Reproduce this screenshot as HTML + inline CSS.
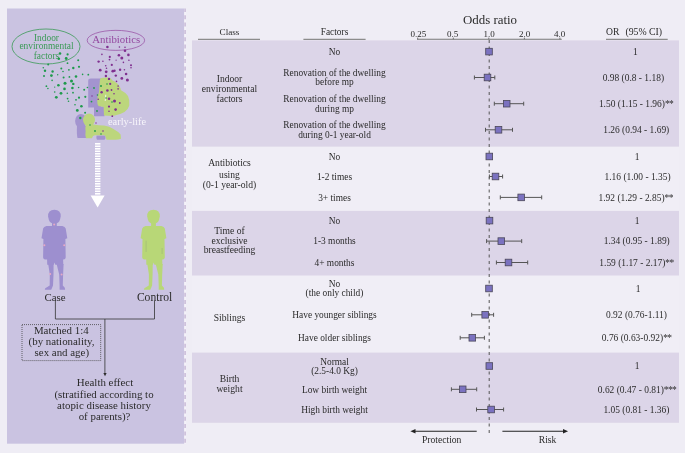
<!DOCTYPE html>
<html><head><meta charset="utf-8"><style>
html,body{margin:0;padding:0;background:#efedf5;}
svg{display:block;will-change:transform;}
text{font-family:"Liberation Serif", serif;}
</style></head><body>
<svg width="685" height="453" viewBox="0 0 685 453">
<rect x="0" y="0" width="685" height="453" fill="#efedf5"/>
<rect x="7" y="8.5" width="177.3" height="435.2" fill="#cac3e1"/>
<rect x="184.3" y="8.5" width="1.8" height="435.2" fill="#f4f2f9"/>
<line x1="185.1" y1="8.5" x2="185.1" y2="443.7" stroke="#cfc2dc" stroke-width="1.8" stroke-dasharray="4 3.3" stroke-dashoffset="0.5"/>
<rect x="192" y="40.4" width="487" height="106.4" fill="#dcd5e8"/>
<rect x="192" y="146.8" width="487" height="64.1" fill="#f0eef6"/>
<rect x="192" y="210.9" width="487" height="64.8" fill="#dcd5e8"/>
<rect x="192" y="275.7" width="487" height="76.9" fill="#f0eef6"/>
<rect x="192" y="352.6" width="487" height="70.2" fill="#dcd5e8"/>
<line x1="198" y1="39.3" x2="260" y2="39.3" stroke="#8c8c8c" stroke-width="1.2"/>
<line x1="303.4" y1="39.3" x2="365.6" y2="39.3" stroke="#8c8c8c" stroke-width="1.2"/>
<line x1="606" y1="39.3" x2="667.7" y2="39.3" stroke="#8c8c8c" stroke-width="1.2"/>
<line x1="417" y1="39.2" x2="561.7" y2="39.2" stroke="#777" stroke-width="1.1"/>
<line x1="417.7" y1="37.6" x2="417.7" y2="39.3" stroke="#666" stroke-width="0.9"/>
<line x1="453.3" y1="37.6" x2="453.3" y2="39.3" stroke="#666" stroke-width="0.9"/>
<line x1="488.8" y1="37.6" x2="488.8" y2="39.3" stroke="#666" stroke-width="0.9"/>
<line x1="524.4" y1="37.6" x2="524.4" y2="39.3" stroke="#666" stroke-width="0.9"/>
<line x1="559.9" y1="37.6" x2="559.9" y2="39.3" stroke="#666" stroke-width="0.9"/>
<line x1="489.2" y1="40" x2="489.2" y2="433" stroke="#555" stroke-width="1" stroke-dasharray="3 3.5"/>
<line x1="414" y1="431.3" x2="476.7" y2="431.3" stroke="#222" stroke-width="1.1"/>
<path d="M410.4 431.3 L415.5 429 L415.5 433.6 Z" fill="#222"/>
<line x1="502.4" y1="431.3" x2="565" y2="431.3" stroke="#222" stroke-width="1.1"/>
<path d="M568.1 431.3 L563 429 L563 433.6 Z" fill="#222"/>
<ellipse cx="46" cy="46.5" rx="34" ry="17.5" fill="none" stroke="#3a9a55" stroke-width="0.8"/>
<ellipse cx="115.9" cy="40.35" rx="28.7" ry="10" fill="none" stroke="#93489f" stroke-width="0.7"/>
<text x="46.5" y="40.5" font-size="9.4" text-anchor="middle" fill="#3a9a55">Indoor</text>
<text x="46.5" y="49.4" font-size="9.4" text-anchor="middle" fill="#3a9a55">environmental</text>
<text x="46.5" y="58.6" font-size="9.4" text-anchor="middle" fill="#3a9a55">factors</text>
<text x="116.2" y="43.2" font-size="10.8" text-anchor="middle" fill="#93489f">Antibiotics</text>
<path d="M88.2 81 Q88.2 78.6 91 78.6 L101 78.6 L101 106.5 L104.5 106.5 L104.5 116.3 L94 116.3 L94 107.5 L88.2 107.5 Z" fill="#a394cf"/>
<path d="M99.9 80 Q100 77.8 103 77.8 L108 77.6 Q111.5 78 112.5 80.5 Q117.5 82.5 119.3 86 Q121 88.5 121 90.3 Q125.5 92.5 128 96 Q130 100 129.3 105.5 Q128 110 124.5 112 Q120 114.8 113 116 L104 115.6 L103.6 107 L98.5 106 Q97 104 97.2 100 Q97.8 95 99 92 Z" fill="#bcd67c"/>
<path d="M105.2 94.8 L106.3 94.8 L105.7 101.1 L104.7 101.1 Z" fill="#eef0e0"/>
<ellipse cx="81" cy="121" rx="5.9" ry="7" fill="#a394cf"/>
<path d="M77 126 L86.5 126 L86.5 138 L77.5 138 Q76.5 134 77 126 Z" fill="#a394cf"/>
<path d="M96.5 135.5 L105.3 135.5 Q106 139.7 104 139.7 L97 139.7 Q96 138 96.5 135.5 Z" fill="#a394cf"/>
<ellipse cx="89" cy="120" rx="6" ry="6.5" fill="#bcd67c"/>
<path d="M86 124 L94 124.5 Q99 125.6 104 125.5 Q110 126.5 113 128.8 Q118 131.5 120.6 134.5 L121 138.8 Q118 140 114 139.8 L106.5 139.7 Q105.8 136 104.5 135.3 L95 135.3 Q92.5 135.5 92 138.3 L86 138.3 Q85 135 85.6 131 Q85 128 86 124 Z" fill="#bcd67c"/>
<text x="108" y="125.2" font-size="10.4" fill="#f7f5fb">early-life</text>
<circle cx="60" cy="53.5" r="1.3" fill="#1f9a4c"/>
<circle cx="67.6" cy="54.4" r="1.1" fill="#1f9a4c"/>
<circle cx="58.8" cy="58.8" r="1.3" fill="#1f9a4c"/>
<circle cx="66.2" cy="58.5" r="1.4" fill="#1f9a4c"/>
<circle cx="48.2" cy="64.5" r="1" fill="#1f9a4c"/>
<circle cx="43.3" cy="67.7" r="0.8" fill="#1f9a4c"/>
<circle cx="45" cy="70.8" r="1.2" fill="#1f9a4c"/>
<circle cx="52.6" cy="71.5" r="1.2" fill="#1f9a4c"/>
<circle cx="61.3" cy="68.5" r="1" fill="#1f9a4c"/>
<circle cx="67.5" cy="63.2" r="0.9" fill="#1f9a4c"/>
<circle cx="78.2" cy="60.2" r="1" fill="#1f9a4c"/>
<circle cx="79" cy="66.8" r="1.1" fill="#1f9a4c"/>
<circle cx="73.3" cy="68" r="1.2" fill="#1f9a4c"/>
<circle cx="68.9" cy="69.8" r="0.9" fill="#1f9a4c"/>
<circle cx="63" cy="71.5" r="0.8" fill="#1f9a4c"/>
<circle cx="51.4" cy="75.6" r="1.4" fill="#1f9a4c"/>
<circle cx="44" cy="76.1" r="1" fill="#1f9a4c"/>
<circle cx="57.7" cy="74.7" r="0.7" fill="#1f9a4c"/>
<circle cx="63.6" cy="77.4" r="1" fill="#1f9a4c"/>
<circle cx="69.4" cy="76.9" r="0.9" fill="#1f9a4c"/>
<circle cx="76" cy="76.5" r="1.3" fill="#1f9a4c"/>
<circle cx="82.6" cy="74.4" r="0.8" fill="#1f9a4c"/>
<circle cx="88.3" cy="74.7" r="0.9" fill="#1f9a4c"/>
<circle cx="52.1" cy="80.4" r="0.8" fill="#1f9a4c"/>
<circle cx="65" cy="83.2" r="1.5" fill="#1f9a4c"/>
<circle cx="71.5" cy="80.9" r="1.5" fill="#1f9a4c"/>
<circle cx="73.3" cy="83.9" r="1.2" fill="#1f9a4c"/>
<circle cx="58.4" cy="85.3" r="1.3" fill="#1f9a4c"/>
<circle cx="46.4" cy="86.2" r="0.9" fill="#1f9a4c"/>
<circle cx="47.9" cy="88.5" r="0.8" fill="#1f9a4c"/>
<circle cx="54.7" cy="87.1" r="0.7" fill="#1f9a4c"/>
<circle cx="64.5" cy="88.9" r="1.3" fill="#1f9a4c"/>
<circle cx="72.4" cy="88" r="1.3" fill="#1f9a4c"/>
<circle cx="78.6" cy="87.5" r="0.8" fill="#1f9a4c"/>
<circle cx="84.2" cy="89.7" r="1" fill="#1f9a4c"/>
<circle cx="87.4" cy="87.5" r="0.8" fill="#1f9a4c"/>
<circle cx="54.7" cy="92" r="0.8" fill="#1f9a4c"/>
<circle cx="61" cy="93.3" r="1.4" fill="#1f9a4c"/>
<circle cx="67.3" cy="93.3" r="0.8" fill="#1f9a4c"/>
<circle cx="73" cy="92.7" r="0.9" fill="#1f9a4c"/>
<circle cx="79" cy="97.7" r="1.1" fill="#1f9a4c"/>
<circle cx="85.3" cy="96.8" r="1.1" fill="#1f9a4c"/>
<circle cx="56.3" cy="97.3" r="1.4" fill="#1f9a4c"/>
<circle cx="67.6" cy="98.6" r="0.9" fill="#1f9a4c"/>
<circle cx="76" cy="99.8" r="0.9" fill="#1f9a4c"/>
<circle cx="68.5" cy="101.2" r="0.8" fill="#1f9a4c"/>
<circle cx="81.4" cy="106.2" r="1.3" fill="#1f9a4c"/>
<circle cx="75" cy="104.8" r="0.8" fill="#1f9a4c"/>
<circle cx="77.3" cy="110.4" r="1.4" fill="#1f9a4c"/>
<circle cx="85.1" cy="112.7" r="1" fill="#1f9a4c"/>
<circle cx="80.3" cy="118" r="1.2" fill="#1f9a4c"/>
<circle cx="91.5" cy="101.6" r="0.9" fill="#1f9a4c"/>
<circle cx="94" cy="88" r="0.9" fill="#1f9a4c"/>
<circle cx="101" cy="86" r="1" fill="#1f9a4c"/>
<circle cx="97.5" cy="95" r="0.8" fill="#1f9a4c"/>
<circle cx="107" cy="84" r="0.8" fill="#1f9a4c"/>
<circle cx="106" cy="98" r="0.8" fill="#1f9a4c"/>
<circle cx="112" cy="102" r="0.8" fill="#1f9a4c"/>
<circle cx="97" cy="111" r="0.9" fill="#1f9a4c"/>
<circle cx="90" cy="125" r="0.8" fill="#1f9a4c"/>
<circle cx="95" cy="131" r="0.9" fill="#1f9a4c"/>
<circle cx="101" cy="134" r="0.8" fill="#1f9a4c"/>
<circle cx="107.4" cy="47" r="1.3" fill="#7f2f8f"/>
<circle cx="119.4" cy="47" r="0.8" fill="#7f2f8f"/>
<circle cx="125" cy="47.3" r="0.8" fill="#7f2f8f"/>
<circle cx="125" cy="50.8" r="1.3" fill="#7f2f8f"/>
<circle cx="101.9" cy="54.4" r="0.8" fill="#7f2f8f"/>
<circle cx="109.8" cy="56.9" r="1.1" fill="#7f2f8f"/>
<circle cx="118.9" cy="55.3" r="1.3" fill="#7f2f8f"/>
<circle cx="121.8" cy="57.9" r="1.5" fill="#7f2f8f"/>
<circle cx="128.4" cy="54.9" r="1.3" fill="#7f2f8f"/>
<circle cx="98.6" cy="61.6" r="1.2" fill="#7f2f8f"/>
<circle cx="102.9" cy="61.2" r="0.8" fill="#7f2f8f"/>
<circle cx="109.5" cy="59.6" r="0.9" fill="#7f2f8f"/>
<circle cx="116.1" cy="60.2" r="0.6" fill="#7f2f8f"/>
<circle cx="123.4" cy="62.4" r="0.8" fill="#7f2f8f"/>
<circle cx="128.9" cy="60.2" r="0.8" fill="#7f2f8f"/>
<circle cx="105.7" cy="65.7" r="0.8" fill="#7f2f8f"/>
<circle cx="111.8" cy="64.9" r="1.1" fill="#7f2f8f"/>
<circle cx="131" cy="65.2" r="1" fill="#7f2f8f"/>
<circle cx="100.2" cy="70.2" r="1.4" fill="#7f2f8f"/>
<circle cx="106.2" cy="71.8" r="1.4" fill="#7f2f8f"/>
<circle cx="112.8" cy="71.2" r="1.4" fill="#7f2f8f"/>
<circle cx="114.5" cy="70.7" r="1.2" fill="#7f2f8f"/>
<circle cx="120.1" cy="69.8" r="1.2" fill="#7f2f8f"/>
<circle cx="124.4" cy="69.8" r="0.8" fill="#7f2f8f"/>
<circle cx="131" cy="67.8" r="0.8" fill="#7f2f8f"/>
<circle cx="106.5" cy="68.2" r="0.8" fill="#7f2f8f"/>
<circle cx="105.9" cy="76" r="1.2" fill="#7f2f8f"/>
<circle cx="115.8" cy="75.6" r="1.2" fill="#7f2f8f"/>
<circle cx="126.1" cy="74" r="1.3" fill="#7f2f8f"/>
<circle cx="109" cy="78.9" r="1.2" fill="#7f2f8f"/>
<circle cx="121.8" cy="78.4" r="1.4" fill="#7f2f8f"/>
<circle cx="127.4" cy="80.1" r="1.5" fill="#7f2f8f"/>
<circle cx="116.5" cy="81.4" r="0.8" fill="#7f2f8f"/>
<circle cx="110.2" cy="83.9" r="1.1" fill="#7f2f8f"/>
<circle cx="118.1" cy="86.1" r="0.8" fill="#7f2f8f"/>
<circle cx="118.1" cy="88.9" r="0.8" fill="#7f2f8f"/>
<circle cx="107.4" cy="90.5" r="1.3" fill="#7f2f8f"/>
<circle cx="111.5" cy="90" r="0.9" fill="#7f2f8f"/>
<circle cx="101.6" cy="92.2" r="1.2" fill="#7f2f8f"/>
<circle cx="114" cy="93.8" r="0.8" fill="#7f2f8f"/>
<circle cx="109" cy="98.8" r="1.3" fill="#7f2f8f"/>
<circle cx="114.5" cy="101" r="1.5" fill="#7f2f8f"/>
<circle cx="98.2" cy="99.3" r="0.8" fill="#7f2f8f"/>
<circle cx="119.8" cy="103" r="0.9" fill="#7f2f8f"/>
<circle cx="109" cy="106.6" r="1.1" fill="#7f2f8f"/>
<circle cx="115.6" cy="109.6" r="1.3" fill="#7f2f8f"/>
<circle cx="109" cy="111.2" r="0.8" fill="#7f2f8f"/>
<circle cx="112.3" cy="116.2" r="0.9" fill="#7f2f8f"/>
<circle cx="92" cy="96" r="0.7" fill="#7f2f8f"/>
<circle cx="96" cy="123" r="0.7" fill="#7f2f8f"/>
<circle cx="103" cy="131" r="0.8" fill="#7f2f8f"/>
<rect x="95" y="143.0" width="5.4" height="1.6" fill="#ffffff"/>
<rect x="95" y="145.5" width="5.4" height="1.6" fill="#ffffff"/>
<rect x="95" y="148.0" width="5.4" height="1.6" fill="#ffffff"/>
<rect x="95" y="150.5" width="5.4" height="1.6" fill="#ffffff"/>
<rect x="95" y="153.0" width="5.4" height="1.6" fill="#ffffff"/>
<rect x="95" y="155.5" width="5.4" height="1.6" fill="#ffffff"/>
<rect x="95" y="158.0" width="5.4" height="1.6" fill="#ffffff"/>
<rect x="95" y="160.5" width="5.4" height="1.6" fill="#ffffff"/>
<rect x="95" y="163.0" width="5.4" height="1.6" fill="#ffffff"/>
<rect x="95" y="165.5" width="5.4" height="1.6" fill="#ffffff"/>
<rect x="95" y="168.0" width="5.4" height="1.6" fill="#ffffff"/>
<rect x="95" y="170.5" width="5.4" height="1.6" fill="#ffffff"/>
<rect x="95" y="173.0" width="5.4" height="1.6" fill="#ffffff"/>
<rect x="95" y="175.5" width="5.4" height="1.6" fill="#ffffff"/>
<rect x="95" y="178.0" width="5.4" height="1.6" fill="#ffffff"/>
<rect x="95" y="180.5" width="5.4" height="1.6" fill="#ffffff"/>
<rect x="95" y="183.0" width="5.4" height="1.6" fill="#ffffff"/>
<rect x="95" y="185.5" width="5.4" height="1.6" fill="#ffffff"/>
<rect x="95" y="188.0" width="5.4" height="1.6" fill="#ffffff"/>
<rect x="95" y="190.5" width="5.4" height="1.6" fill="#ffffff"/>
<rect x="95" y="193.0" width="5.4" height="1.6" fill="#ffffff"/>
<path d="M90.6 195.4 L104.6 195.4 L97.6 207.4 Z" fill="#ffffff"/>
<g transform="translate(54.4,0)" fill="#9d8fcf">
<path d="M-6.3 216.5 Q-6.6 209.7 0 209.7 Q6.6 209.7 6.3 216.5 L5.6 219.5 Q4.6 223.2 1.5 223.4 L-1.5 223.4 Q-4.6 223.2 -5.6 219.5 Z"/>
<rect x="-2.4" y="222" width="4.8" height="5"/>
<path d="M-8 226 L8 226 Q10.6 226.8 11.3 228.6 L12.9 238.3 L11 238.9 L11.3 257.5 Q11 259.5 9.3 259.5 L8.7 259.5 L8.9 264.8 L0.9 264.8 L0.2 262.5 L-0.6 264.8 L-7.2 264.8 L-7.3 259.5 L-9.3 259.5 Q-11 259.5 -11.3 257.5 L-11 238.9 L-12.9 238.3 L-11.3 228.6 Q-10.6 226.8 -8 226 Z"/>
<path d="M-6.2 264 L-0.8 264 L-0.9 274.5 L-1.4 285.5 L-2.6 288.5 L-3.2 289.7 L-9.6 289.7 Q-9.8 288.3 -7.5 287.3 L-4.7 285.5 L-4.6 274.5 Z"/>
<path d="M2.2 264 L9.2 264 L8.7 274.5 L8.4 285.5 L10.4 287.8 L10.7 289.7 L5.2 289.7 L5.2 285.5 L4.8 274.5 Z"/>
</g>
<circle cx="54.199999999999996" cy="224.6" r="1.0" fill="#e8a9c4"/>
<circle cx="44.4" cy="245.3" r="1.0" fill="#e8a9c4"/>
<circle cx="64.2" cy="245.3" r="1.0" fill="#e8a9c4"/>
<circle cx="50.199999999999996" cy="274" r="1.0" fill="#e8a9c4"/>
<circle cx="61.6" cy="274.6" r="1.0" fill="#e8a9c4"/>
<g transform="translate(153.5,0)" fill="#b8d777">
<path d="M-6.3 216.5 Q-6.6 209.7 0 209.7 Q6.6 209.7 6.3 216.5 L5.6 219.5 Q4.6 223.2 1.5 223.4 L-1.5 223.4 Q-4.6 223.2 -5.6 219.5 Z"/>
<rect x="-2.4" y="222" width="4.8" height="5"/>
<path d="M-8 226 L8 226 Q10.6 226.8 11.3 228.6 L12.9 238.3 L11 238.9 L11.3 257.5 Q11 259.5 9.3 259.5 L8.7 259.5 L8.9 264.8 L0.9 264.8 L0.2 262.5 L-0.6 264.8 L-7.2 264.8 L-7.3 259.5 L-9.3 259.5 Q-11 259.5 -11.3 257.5 L-11 238.9 L-12.9 238.3 L-11.3 228.6 Q-10.6 226.8 -8 226 Z"/>
<path d="M-6.2 264 L-0.8 264 L-0.9 274.5 L-1.4 285.5 L-2.6 288.5 L-3.2 289.7 L-9.6 289.7 Q-9.8 288.3 -7.5 287.3 L-4.7 285.5 L-4.6 274.5 Z"/>
<path d="M2.2 264 L9.2 264 L8.7 274.5 L8.4 285.5 L10.4 287.8 L10.7 289.7 L5.2 289.7 L5.2 285.5 L4.8 274.5 Z"/>
</g>
<line x1="146.1" y1="240.7" x2="146.1" y2="252" stroke="#a3bc78" stroke-width="0.8"/>
<line x1="162.1" y1="248" x2="162.1" y2="254" stroke="#a3bc78" stroke-width="0.8"/>
<text x="55.1" y="300.8" font-size="10.9" text-anchor="middle" fill="#2b2b2b">Case</text>
<text x="154.6" y="300.8" font-size="11.6" text-anchor="middle" fill="#2b2b2b">Control</text>
<path d="M55.4 301 L55.4 319 L154.5 319 L154.5 301" fill="none" stroke="#333" stroke-width="0.8"/>
<line x1="104.9" y1="319" x2="104.9" y2="374" stroke="#333" stroke-width="0.8"/>
<path d="M103.4 373 L106.6 373 L105 376.2 Z" fill="#2a2a2a"/>
<rect x="22" y="324.6" width="78.7" height="36" fill="none" stroke="#444" stroke-width="0.8" stroke-dasharray="1 1"/>
<text x="61.3" y="334.3" font-size="10.9" text-anchor="middle" fill="#2b2b2b">Matched 1:4</text>
<text x="61.5" y="344.8" font-size="10.9" text-anchor="middle" fill="#2b2b2b">(by nationality,</text>
<text x="61.8" y="356" font-size="10.9" text-anchor="middle" fill="#2b2b2b">sex and age)</text>
<text x="105" y="385.8" font-size="10.9" text-anchor="middle" fill="#2b2b2b">Health effect</text>
<text x="104" y="397.5" font-size="10.9" text-anchor="middle" fill="#2b2b2b">(stratified according to</text>
<text x="104" y="408.7" font-size="10.9" text-anchor="middle" fill="#2b2b2b">atopic disease history</text>
<text x="104.5" y="419.9" font-size="10.9" text-anchor="middle" fill="#2b2b2b">of parents)?</text>
<rect x="485.7" y="48.300000000000004" width="6.6" height="6.6" fill="#7b72c0" stroke="#4a4658" stroke-width="0.8"/>
<line x1="474.4" y1="77.5" x2="494.8" y2="77.5" stroke="#555" stroke-width="1"/>
<line x1="474.4" y1="75.5" x2="474.4" y2="79.5" stroke="#555" stroke-width="1"/>
<line x1="494.8" y1="75.5" x2="494.8" y2="79.5" stroke="#555" stroke-width="1"/>
<rect x="484.2" y="74.2" width="6.6" height="6.6" fill="#7b72c0" stroke="#4a4658" stroke-width="0.8"/>
<line x1="494.3" y1="103.7" x2="523.7" y2="103.7" stroke="#555" stroke-width="1"/>
<line x1="494.3" y1="101.7" x2="494.3" y2="105.7" stroke="#555" stroke-width="1"/>
<line x1="523.7" y1="101.7" x2="523.7" y2="105.7" stroke="#555" stroke-width="1"/>
<rect x="503.4" y="100.4" width="6.6" height="6.6" fill="#7b72c0" stroke="#4a4658" stroke-width="0.8"/>
<line x1="485.5" y1="129.8" x2="512.5" y2="129.8" stroke="#555" stroke-width="1"/>
<line x1="485.5" y1="127.80000000000001" x2="485.5" y2="131.8" stroke="#555" stroke-width="1"/>
<line x1="512.5" y1="127.80000000000001" x2="512.5" y2="131.8" stroke="#555" stroke-width="1"/>
<rect x="495.2" y="126.50000000000001" width="6.6" height="6.6" fill="#7b72c0" stroke="#4a4658" stroke-width="0.8"/>
<rect x="486.0" y="153.2" width="6.6" height="6.6" fill="#7b72c0" stroke="#4a4658" stroke-width="0.8"/>
<line x1="489.4" y1="176.5" x2="502.6" y2="176.5" stroke="#555" stroke-width="1"/>
<line x1="489.4" y1="174.5" x2="489.4" y2="178.5" stroke="#555" stroke-width="1"/>
<line x1="502.6" y1="174.5" x2="502.6" y2="178.5" stroke="#555" stroke-width="1"/>
<rect x="492.2" y="173.2" width="6.6" height="6.6" fill="#7b72c0" stroke="#4a4658" stroke-width="0.8"/>
<line x1="500.3" y1="197.4" x2="541.7" y2="197.4" stroke="#555" stroke-width="1"/>
<line x1="500.3" y1="195.4" x2="500.3" y2="199.4" stroke="#555" stroke-width="1"/>
<line x1="541.7" y1="195.4" x2="541.7" y2="199.4" stroke="#555" stroke-width="1"/>
<rect x="517.9000000000001" y="194.1" width="6.6" height="6.6" fill="#7b72c0" stroke="#4a4658" stroke-width="0.8"/>
<rect x="486.2" y="217.29999999999998" width="6.6" height="6.6" fill="#7b72c0" stroke="#4a4658" stroke-width="0.8"/>
<line x1="486.6" y1="241.1" x2="521.7" y2="241.1" stroke="#555" stroke-width="1"/>
<line x1="486.6" y1="239.1" x2="486.6" y2="243.1" stroke="#555" stroke-width="1"/>
<line x1="521.7" y1="239.1" x2="521.7" y2="243.1" stroke="#555" stroke-width="1"/>
<rect x="498.0" y="237.79999999999998" width="6.6" height="6.6" fill="#7b72c0" stroke="#4a4658" stroke-width="0.8"/>
<line x1="496.4" y1="262.5" x2="527.7" y2="262.5" stroke="#555" stroke-width="1"/>
<line x1="496.4" y1="260.5" x2="496.4" y2="264.5" stroke="#555" stroke-width="1"/>
<line x1="527.7" y1="260.5" x2="527.7" y2="264.5" stroke="#555" stroke-width="1"/>
<rect x="505.2" y="259.2" width="6.6" height="6.6" fill="#7b72c0" stroke="#4a4658" stroke-width="0.8"/>
<rect x="485.7" y="285.2" width="6.6" height="6.6" fill="#7b72c0" stroke="#4a4658" stroke-width="0.8"/>
<line x1="471.7" y1="314.8" x2="493.6" y2="314.8" stroke="#555" stroke-width="1"/>
<line x1="471.7" y1="312.8" x2="471.7" y2="316.8" stroke="#555" stroke-width="1"/>
<line x1="493.6" y1="312.8" x2="493.6" y2="316.8" stroke="#555" stroke-width="1"/>
<rect x="481.9" y="311.5" width="6.6" height="6.6" fill="#7b72c0" stroke="#4a4658" stroke-width="0.8"/>
<line x1="460.2" y1="337.8" x2="484.4" y2="337.8" stroke="#555" stroke-width="1"/>
<line x1="460.2" y1="335.8" x2="460.2" y2="339.8" stroke="#555" stroke-width="1"/>
<line x1="484.4" y1="335.8" x2="484.4" y2="339.8" stroke="#555" stroke-width="1"/>
<rect x="469.0" y="334.5" width="6.6" height="6.6" fill="#7b72c0" stroke="#4a4658" stroke-width="0.8"/>
<rect x="486.0" y="362.7" width="6.6" height="6.6" fill="#7b72c0" stroke="#4a4658" stroke-width="0.8"/>
<line x1="451.4" y1="389.3" x2="476.7" y2="389.3" stroke="#555" stroke-width="1"/>
<line x1="451.4" y1="387.3" x2="451.4" y2="391.3" stroke="#555" stroke-width="1"/>
<line x1="476.7" y1="387.3" x2="476.7" y2="391.3" stroke="#555" stroke-width="1"/>
<rect x="459.4" y="386.0" width="6.6" height="6.6" fill="#7b72c0" stroke="#4a4658" stroke-width="0.8"/>
<line x1="476.5" y1="409.5" x2="503.6" y2="409.5" stroke="#555" stroke-width="1"/>
<line x1="476.5" y1="407.5" x2="476.5" y2="411.5" stroke="#555" stroke-width="1"/>
<line x1="503.6" y1="407.5" x2="503.6" y2="411.5" stroke="#555" stroke-width="1"/>
<rect x="487.8" y="406.2" width="6.6" height="6.6" fill="#7b72c0" stroke="#4a4658" stroke-width="0.8"/>
<text x="418.4" y="36.5" font-size="9" text-anchor="middle" fill="#2b2b2b" >0.25</text>
<text x="452.6" y="36.5" font-size="9" text-anchor="middle" fill="#2b2b2b" >0.5</text>
<text x="489.1" y="36.5" font-size="9" text-anchor="middle" fill="#2b2b2b" >1.0</text>
<text x="524.6" y="36.5" font-size="9" text-anchor="middle" fill="#2b2b2b" >2.0</text>
<text x="559.5" y="36.5" font-size="9" text-anchor="middle" fill="#2b2b2b" >4.0</text>
<text x="490" y="24" font-size="12.9" text-anchor="middle" fill="#2b2b2b" >Odds ratio</text>
<text x="229.5" y="34.9" font-size="9.2" text-anchor="middle" fill="#2b2b2b" >Class</text>
<text x="334.5" y="34.9" font-size="9.4" text-anchor="middle" fill="#2b2b2b" >Factors</text>
<text x="606" y="34.8" font-size="9.6" text-anchor="start" fill="#2b2b2b" >OR</text>
<text x="625.4" y="34.8" font-size="9.8" text-anchor="start" fill="#2b2b2b" >(95% CI)</text>
<text x="334.5" y="54.9" font-size="9.4" text-anchor="middle" fill="#2b2b2b" >No</text>
<text x="635.4" y="54.9" font-size="9.45" text-anchor="middle" fill="#2b2b2b" >1</text>
<text x="334.5" y="76.0" font-size="9.4" text-anchor="middle" fill="#2b2b2b" >Renovation of the dwelling</text>
<text x="334.5" y="85.4" font-size="9.4" text-anchor="middle" fill="#2b2b2b" >before mp</text>
<text x="602.7" y="80.8" font-size="9.45" fill="#2b2b2b">0.98 (0.8 - 1.18)</text>
<text x="334.5" y="102.2" font-size="9.4" text-anchor="middle" fill="#2b2b2b" >Renovation of the dwelling</text>
<text x="334.5" y="111.6" font-size="9.4" text-anchor="middle" fill="#2b2b2b" >during mp</text>
<text x="598.9" y="107.0" font-size="9.45" fill="#2b2b2b">1.50 (1.15 - 1.96)<tspan letter-spacing="-0.6">**</tspan></text>
<text x="334.5" y="128.3" font-size="9.4" text-anchor="middle" fill="#2b2b2b" >Renovation of the dwelling</text>
<text x="334.5" y="137.7" font-size="9.4" text-anchor="middle" fill="#2b2b2b" >during 0-1 year-old</text>
<text x="603.2" y="133.1" font-size="9.45" fill="#2b2b2b">1.26 (0.94 - 1.69)</text>
<text x="334.5" y="159.8" font-size="9.4" text-anchor="middle" fill="#2b2b2b" >No</text>
<text x="637" y="159.8" font-size="9.45" text-anchor="middle" fill="#2b2b2b" >1</text>
<text x="334.5" y="179.8" font-size="9.4" text-anchor="middle" fill="#2b2b2b" >1-2 times</text>
<text x="604.5" y="179.8" font-size="9.45" fill="#2b2b2b">1.16 (1.00 - 1.35)</text>
<text x="334.5" y="200.7" font-size="9.4" text-anchor="middle" fill="#2b2b2b" >3+ times</text>
<text x="598.5" y="200.7" font-size="9.45" fill="#2b2b2b">1.92 (1.29 - 2.85)<tspan letter-spacing="-0.6">**</tspan></text>
<text x="334.5" y="223.9" font-size="9.4" text-anchor="middle" fill="#2b2b2b" >No</text>
<text x="637" y="223.9" font-size="9.45" text-anchor="middle" fill="#2b2b2b" >1</text>
<text x="334.5" y="244.4" font-size="9.4" text-anchor="middle" fill="#2b2b2b" >1-3 months</text>
<text x="603.7" y="244.4" font-size="9.45" fill="#2b2b2b">1.34 (0.95 - 1.89)</text>
<text x="334.5" y="265.8" font-size="9.4" text-anchor="middle" fill="#2b2b2b" >4+ months</text>
<text x="599.3" y="265.8" font-size="9.45" fill="#2b2b2b">1.59 (1.17 - 2.17)<tspan letter-spacing="-0.6">**</tspan></text>
<text x="334.5" y="287.0" font-size="9.4" text-anchor="middle" fill="#2b2b2b" >No</text>
<text x="334.5" y="296.4" font-size="9.4" text-anchor="middle" fill="#2b2b2b" >(the only child)</text>
<text x="638" y="291.8" font-size="9.45" text-anchor="middle" fill="#2b2b2b" >1</text>
<text x="334.5" y="318.1" font-size="9.4" text-anchor="middle" fill="#2b2b2b" >Have younger siblings</text>
<text x="606" y="318.1" font-size="9.45" fill="#2b2b2b">0.92 (0.76-1.11)</text>
<text x="334.5" y="341.1" font-size="9.4" text-anchor="middle" fill="#2b2b2b" >Have older siblings</text>
<text x="601.8" y="341.1" font-size="9.45" fill="#2b2b2b">0.76 (0.63-0.92)<tspan letter-spacing="-0.6">**</tspan></text>
<text x="334.5" y="364.5" font-size="9.4" text-anchor="middle" fill="#2b2b2b" >Normal</text>
<text x="334.5" y="373.9" font-size="9.4" text-anchor="middle" fill="#2b2b2b" >(2.5-4.0 Kg)</text>
<text x="637" y="369.3" font-size="9.45" text-anchor="middle" fill="#2b2b2b" >1</text>
<text x="334.5" y="392.6" font-size="9.4" text-anchor="middle" fill="#2b2b2b" >Low birth weight</text>
<text x="597.8" y="392.6" font-size="9.45" fill="#2b2b2b">0.62 (0.47 - 0.81)<tspan letter-spacing="-0.6">***</tspan></text>
<text x="334.5" y="412.8" font-size="9.4" text-anchor="middle" fill="#2b2b2b" >High birth weight</text>
<text x="603.4" y="412.8" font-size="9.45" fill="#2b2b2b">1.05 (0.81 - 1.36)</text>
<text x="229.5" y="81.9" font-size="9.6" text-anchor="middle" fill="#2b2b2b" >Indoor</text>
<text x="229.5" y="91.8" font-size="9.6" text-anchor="middle" fill="#2b2b2b" >environmental</text>
<text x="229.5" y="101.7" font-size="9.6" text-anchor="middle" fill="#2b2b2b" >factors</text>
<text x="229.5" y="166.4" font-size="9.6" text-anchor="middle" fill="#2b2b2b" >Antibiotics</text>
<text x="229.5" y="177.6" font-size="9.6" text-anchor="middle" fill="#2b2b2b" >using</text>
<text x="229.5" y="187.8" font-size="9.6" text-anchor="middle" fill="#2b2b2b" >(0-1 year-old)</text>
<text x="229.5" y="233.6" font-size="9.6" text-anchor="middle" fill="#2b2b2b" >Time of</text>
<text x="229.5" y="243.5" font-size="9.6" text-anchor="middle" fill="#2b2b2b" >exclusive</text>
<text x="229.5" y="253.4" font-size="9.6" text-anchor="middle" fill="#2b2b2b" >breastfeeding</text>
<text x="229.5" y="321" font-size="9.6" text-anchor="middle" fill="#2b2b2b" >Siblings</text>
<text x="229.5" y="381.7" font-size="9.6" text-anchor="middle" fill="#2b2b2b" >Birth</text>
<text x="229.5" y="391.8" font-size="9.6" text-anchor="middle" fill="#2b2b2b" >weight</text>
<text x="441.7" y="442.7" font-size="9.6" text-anchor="middle" fill="#2b2b2b" >Protection</text>
<text x="547.6" y="442.7" font-size="9.6" text-anchor="middle" fill="#2b2b2b" >Risk</text>
</svg>
</body></html>
